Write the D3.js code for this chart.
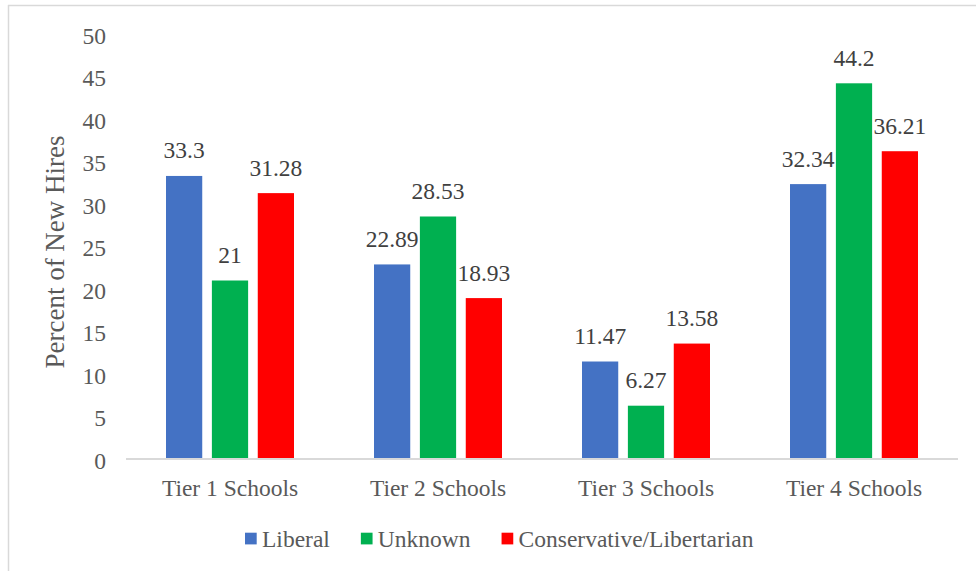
<!DOCTYPE html>
<html>
<head>
<meta charset="utf-8">
<script src="https://cdn.jsdelivr.net/npm/d3@7"></script>
<style>
  html, body { margin: 0; padding: 0; background: #fff; }
  svg { display: block; }
  text { font-family: "Liberation Serif", "Times New Roman", serif; }
</style>
</head>
<body>
<svg id="chart" width="976" height="571"></svg>
<script>
const categories = ["Tier 1 Schools", "Tier 2 Schools", "Tier 3 Schools", "Tier 4 Schools"];
const seriesNames = ["Liberal", "Unknown", "Conservative/Libertarian"];
const liberal = [33.3, 22.89, 11.47, 32.34];
const unknown = [21, 28.53, 6.27, 44.2];
const conservative = [31.28, 18.93, 13.58, 36.21];
const seriesColors = ["#4472C4", "#00B050", "#FF0000"];
const yTicks = [0, 5, 10, 15, 20, 25, 30, 35, 40, 45, 50];
const yTitle = "Percent of New Hires";

const seriesValues = [liberal, unknown, conservative];

const svg = d3.select("#chart");
const fs = 23.5;

// frame lines (chart area border, partially cropped)
svg.append("line").attr("x1", 8.5).attr("x2", 8.5).attr("y1", 5).attr("y2", 571)
  .attr("stroke", "#d9d9d9").attr("stroke-width", 1.5);
svg.append("line").attr("x1", 8).attr("x2", 976).attr("y1", 5.5).attr("y2", 5.5)
  .attr("stroke", "#d9d9d9").attr("stroke-width", 1.5);

const x0 = d3.scaleBand().domain(categories).range([126, 958])
  .paddingInner(80 / 208).paddingOuter(40 / 208);
const x1 = d3.scaleBand().domain(seriesNames).range([0, x0.bandwidth()]).paddingInner(0.21);
const y = d3.scaleLinear().domain([0, 50]).range([459, 34]);

// y axis labels
const yAxis = svg.append("g").attr("transform", "translate(106,0)")
  .call(d3.axisLeft(y).tickValues(yTicks).tickSize(0).tickPadding(0));
yAxis.select(".domain").remove();
yAxis.selectAll("text")
  .attr("dy", null)
  .attr("y", 9.3)
  .attr("font-family", "Liberation Serif")
  .attr("font-size", fs)
  .attr("fill", "#595959");

// bars
const groups = svg.append("g").selectAll("g").data(categories).join("g")
  .attr("transform", d => `translate(${x0(d)},0)`);

groups.selectAll("rect")
  .data((c, i) => seriesNames.map((s, j) => ({ s, v: seriesValues[j][i], j })))
  .join("rect")
  .attr("x", d => x1(d.s))
  .attr("width", x1.bandwidth())
  .attr("y", d => y(d.v))
  .attr("height", d => y(0) - y(d.v))
  .attr("fill", d => seriesColors[d.j]);

groups.selectAll("text.lbl")
  .data((c, i) => seriesNames.map((s, j) => ({ s, v: seriesValues[j][i], j })))
  .join("text")
  .attr("class", "lbl")
  .attr("x", d => x1(d.s) + x1.bandwidth() / 2)
  .attr("y", d => y(d.v) - 17.5)
  .attr("text-anchor", "middle")
  .attr("font-size", fs)
  .attr("fill", "#404040")
  .text(d => String(d.v));

// x axis
const xAxis = svg.append("g").attr("transform", "translate(0,459)")
  .call(d3.axisBottom(x0).tickSize(0).tickSizeOuter(0).tickPadding(0));
xAxis.select(".domain")
  .attr("d", `M${x0.range()[0]},0H${x0.range()[1]}`)
  .attr("stroke", "#d9d9d9").attr("stroke-width", 2);
xAxis.selectAll("text")
  .attr("dy", null)
  .attr("y", 37)
  .attr("font-family", "Liberation Serif")
  .attr("font-size", fs)
  .attr("fill", "#595959");

// y title
svg.append("text")
  .attr("transform", "translate(63.5,252) rotate(-90)")
  .attr("text-anchor", "middle")
  .attr("font-size", 27)
  .attr("fill", "#595959")
  .text(yTitle);

// legend
const legend = svg.append("g");
let lx = 245;
seriesNames.forEach((s, j) => {
  legend.append("rect").attr("x", lx).attr("y", 532.7).attr("width", 11.7).attr("height", 11.7)
    .attr("fill", seriesColors[j]);
  const t = legend.append("text").attr("x", lx + 17).attr("y", 546.7)
    .attr("font-size", fs).attr("fill", "#595959").text(s);
  lx = lx + 17 + t.node().getComputedTextLength() + 31;
});
</script>
</body>
</html>
